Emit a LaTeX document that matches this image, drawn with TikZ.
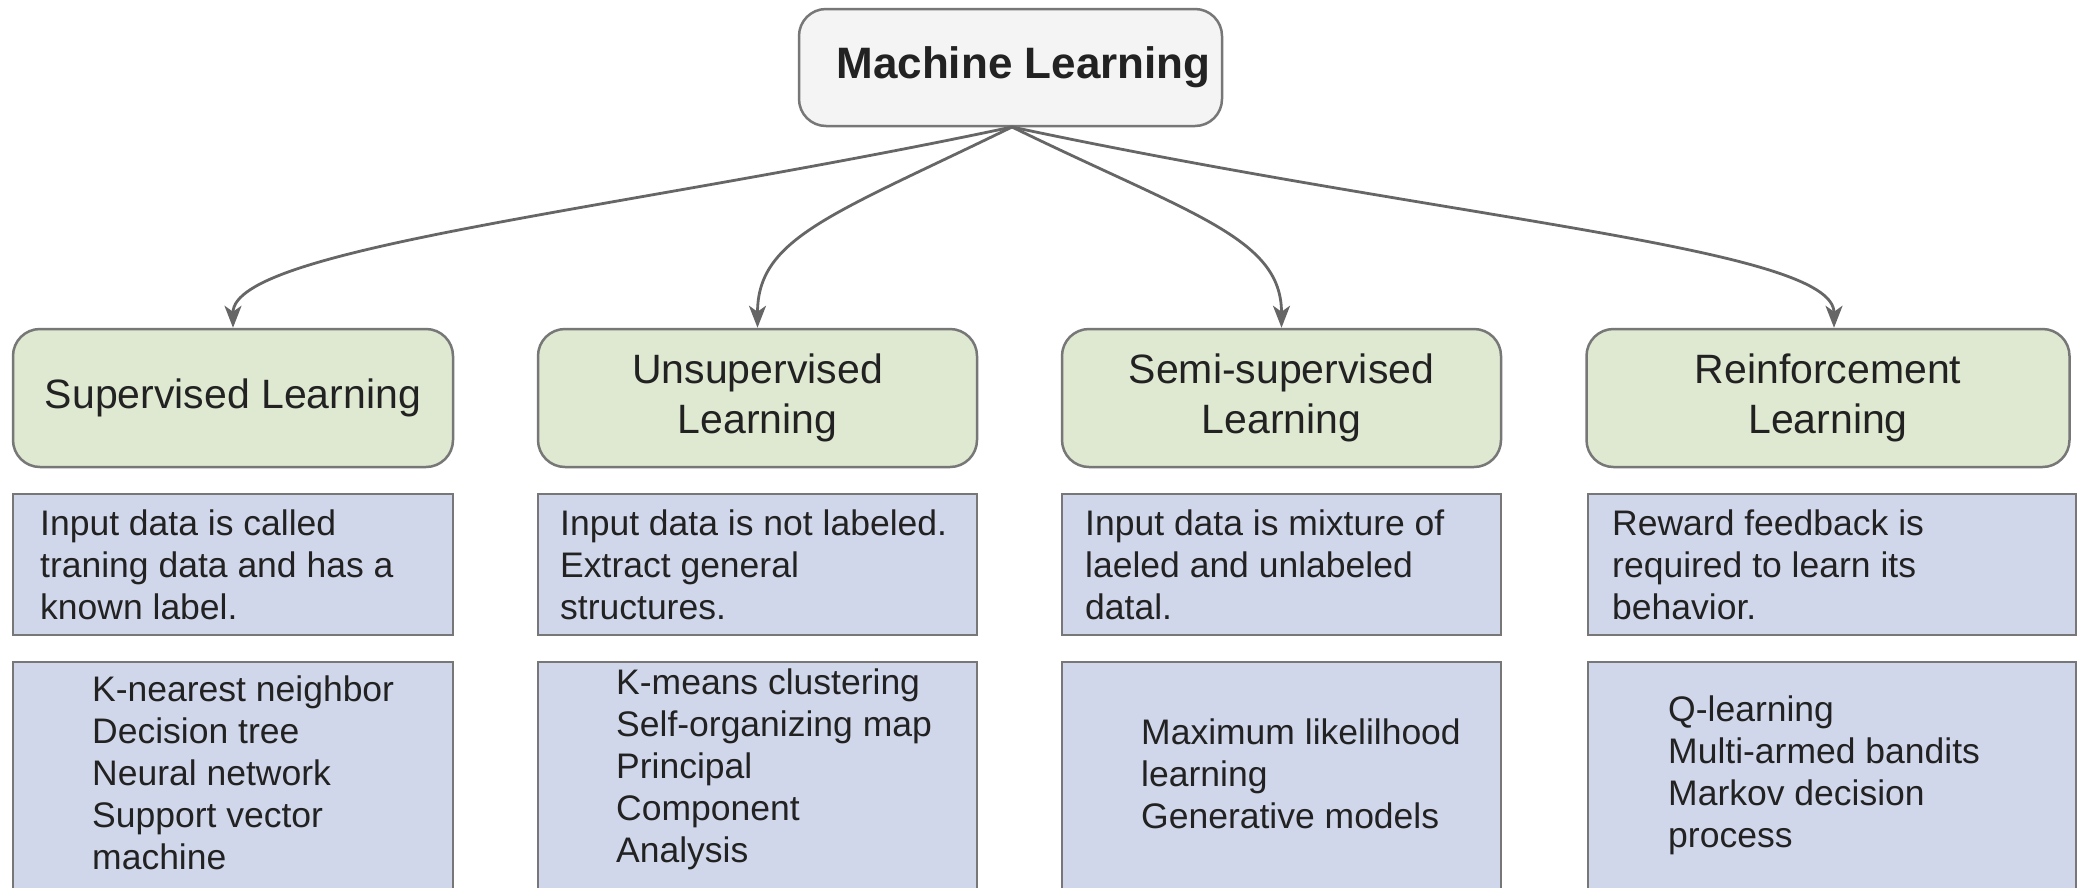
\documentclass[tikz,border=0pt]{standalone}
\usepackage{fontspec}
\setmainfont{Liberation Sans}
\usetikzlibrary{arrows.meta}

\definecolor{edgegray}{HTML}{777777}
\definecolor{linkgray}{HTML}{666666}
\definecolor{rootfill}{HTML}{F4F4F4}
\definecolor{catfill}{HTML}{DFE9D2}
\definecolor{infofill}{HTML}{D1D7EB}
\definecolor{inkcol}{HTML}{222222}

\tikzset{
  rootbox/.style={draw=edgegray, fill=rootfill, line width=2.5pt,
    rounded corners=27pt, minimum width=423pt, minimum height=117pt,
    inner sep=0pt, text=inkcol, font=\fontsize{44}{50}\selectfont\bfseries},
  catbox/.style={draw=edgegray, fill=catfill, line width=2.5pt,
    rounded corners=27pt, minimum height=138pt, inner sep=0pt,
    align=center, text=inkcol, font=\fontsize{41}{50.5}\selectfont},
  infobox/.style={draw=edgegray, fill=infofill, line width=2.5pt,
    inner sep=0pt},
  infotext/.style={inner sep=0pt, align=left, anchor=west, text=inkcol,
    font=\fontsize{35.5}{42}\selectfont},
  link/.style={draw=linkgray, line width=2.8pt,
    -{Stealth[length=22pt,width=17pt,inset=6pt]}},
}

\begin{document}
\begin{tikzpicture}[x=1pt,y=-1pt]
  \useasboundingbox (0,0) rectangle (2087,887);
  \clip (0,0) rectangle (2087,887);
  \fill[white] (0,0) rectangle (2087,887);

  % root
  \node[rootbox] (ml) at (1010.5,67.5) {\hspace*{26pt}Machine Learning};

  % categories
  \node[catbox, minimum width=440pt] (sup) at (233,398) {Supervised Learning};
  \node[catbox, minimum width=439pt] (uns) at (757.5,398) {Unsupervised\\Learning};
  \node[catbox, minimum width=439pt] (semi) at (1281.5,398) {Semi-supervised\\Learning};
  \node[catbox, minimum width=483pt] (rl) at (1828,398) {Reinforcement\\Learning};

  % description boxes
  \node[infobox, minimum width=440pt, minimum height=141pt] (dsup) at (233,564.5) {};
  \node[infobox, minimum width=439pt, minimum height=141pt] (duns) at (757.5,564.5) {};
  \node[infobox, minimum width=439pt, minimum height=141pt] (dsemi) at (1281.5,564.5) {};
  \node[infobox, minimum width=488pt, minimum height=141pt] (drl) at (1832,564.5) {};

  \node[infotext] (tsup) at (40,565) {Input data is called\\traning data and has a\\known label.};
  \node[infotext] (tuns) at (560,565) {Input data is not labeled.\\Extract general\\structures.};
  \node[infotext] (tsemi) at (1085,565) {Input data is mixture of\\laeled and unlabeled\\datal.};
  \node[infotext] (trl) at (1612,565) {Reward feedback is\\required to learn its\\behavior.};

  % algorithm boxes (run past the lower edge)
  \node[infobox, minimum width=440pt, minimum height=250pt] (asup) at (233,787) {};
  \node[infobox, minimum width=439pt, minimum height=250pt] (auns) at (757.5,787) {};
  \node[infobox, minimum width=439pt, minimum height=250pt] (asemi) at (1281.5,787) {};
  \node[infobox, minimum width=488pt, minimum height=250pt] (arl) at (1832,787) {};

  \node[infotext] (lsup) at (92,773) {K-nearest neighbor\\Decision tree\\Neural network\\Support vector\\machine};
  \node[infotext] (luns) at (616,769) {K-means clustering\\Self-organizing map\\Principal\\Component\\Analysis};
  \node[infotext] (lsemi) at (1141,774) {Maximum likelilhood\\learning\\Generative models};
  \node[infotext] (lrl) at (1668,775) {Q-learning\\Multi-armed bandits\\Markov decision\\process};

  % connectors
  \coordinate (hub) at (1012,127);
  \draw[link] (hub) to[out=192,in=90,out distance=400pt,in distance=80pt] (sup.north);
  \draw[link] (hub) to[out=206,in=90,out distance=200pt,in distance=90pt] (uns.north);
  \draw[link] (hub) to[out=-26,in=90,out distance=200pt,in distance=90pt] (semi.north);
  \draw[link] (hub) to[out=-12,in=90,out distance=450pt,in distance=80pt] ([xshift=6pt]rl.north);
\end{tikzpicture}
\end{document}
